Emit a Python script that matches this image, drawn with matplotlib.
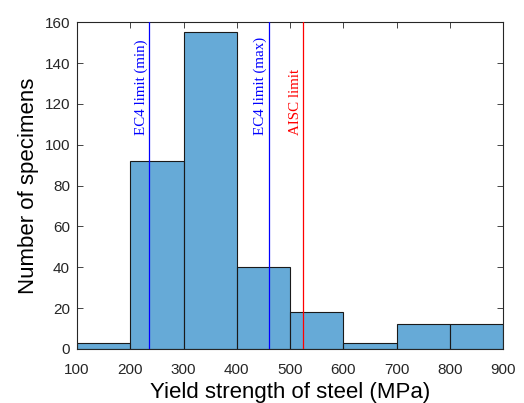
import matplotlib
matplotlib.use("Agg")
import matplotlib.pyplot as plt
import numpy as np

bin_edges = [100, 200, 300, 400, 500, 600, 700, 800, 900]
counts = [3, 92, 155, 40, 18, 3, 12, 12]
limit_values = [235, 460, 525]
limit_labels = ["EC4 limit (min)", "EC4 limit (max)", "AISC limit"]
limit_colors = ["#0000FF", "#0000FF", "#FF0000"]
limit_text_y = [105, 105, 105]

plt.rcParams['font.family'] = ['Liberation Sans', 'DejaVu Sans']

fig = plt.figure(figsize=(5.24, 4.03), dpi=100)
ax = fig.add_axes([0.147, 0.134, 0.813, 0.811])

lefts = bin_edges[:-1]
widths = np.diff(bin_edges)
ax.bar(lefts, counts, width=widths, align='edge', color=(0, 0.447, 0.741, 0.6),
       edgecolor='#1a1a1a', linewidth=0.8, zorder=2)

for v, lab, c, ty in zip(limit_values, limit_labels, limit_colors, limit_text_y):
    ax.axvline(v, color=c, linewidth=0.9, zorder=3)
    ax.text(v - 2.5, ty, lab, rotation=90, ha='right', va='bottom', color=c,
            family=['Liberation Serif', 'DejaVu Serif'], fontsize=10.8, zorder=4)

ax.set_xlim(100, 900)
ax.set_ylim(0, 160)
ax.set_xticks(bin_edges)
ax.set_yticks(range(0, 161, 20))
ax.tick_params(direction='in', top=True, right=True, length=4, width=0.6,
               labelsize=11, labelcolor='#262626', colors='#262626')
ax.tick_params(axis='x', pad=10)
ax.tick_params(axis='y', pad=5)
for s in ax.spines.values():
    s.set_linewidth(0.8)
    s.set_color('#262626')

ax.set_xlabel("Yield strength of steel (MPa)", fontsize=16, color='black', labelpad=4)
ax.set_ylabel("Number of specimens", fontsize=16, color='black', labelpad=4)

fig.savefig("out.png", dpi=100)
